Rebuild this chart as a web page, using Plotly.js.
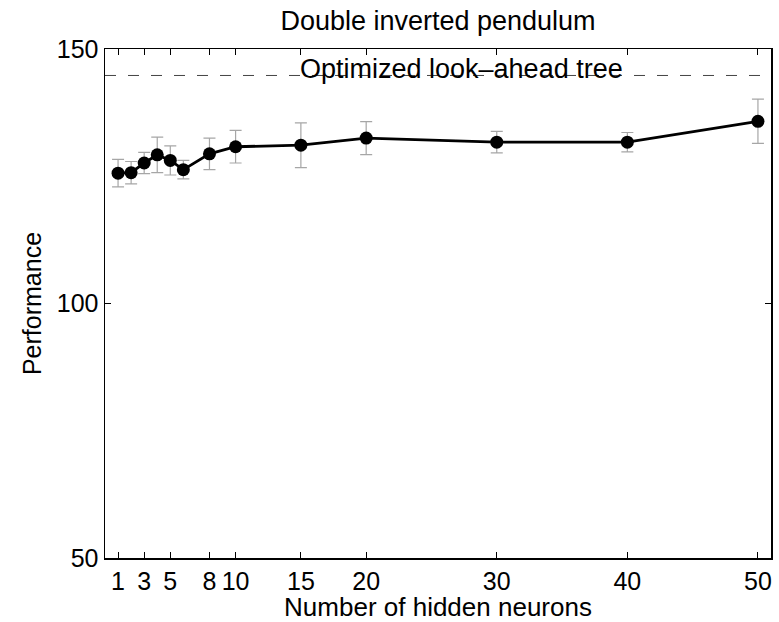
<!DOCTYPE html>
<html>
<head>
<meta charset="utf-8">
<script src="https://cdn.plot.ly/plotly-3.0.1.min.js"></script>
<style>html,body{margin:0;padding:0;background:#fff;}#chart{width:779px;height:622px;}</style>
</head>
<body>
<div id="chart"></div>
<script>
var neurons = [1, 2, 3, 4, 5, 6, 8, 10, 15, 20, 30, 40, 50];
var performance = [125.6, 125.7, 127.6, 129.2, 128.1, 126.3, 129.4, 130.8, 131.1, 132.5, 131.7, 131.7, 135.8];
var errors = [2.7, 2.2, 2.1, 3.5, 2.85, 1.8, 3.1, 3.2, 4.4, 3.25, 2.1, 1.9, 4.35];
var optimizedTree = 144.8;
var xTicks = [1, 3, 5, 8, 10, 15, 20, 30, 40, 50];
var yTicks = [50, 100, 150];

var font = 'Liberation Sans, Arial, Helvetica, sans-serif';

var trace = {
  x: neurons,
  y: performance,
  type: 'scatter',
  mode: 'lines+markers',
  line: {color: '#000', width: 2.8},
  marker: {color: '#000', size: 13},
  error_y: {type: 'data', array: errors, visible: true, color: '#a6a6a6', thickness: 1.2, width: 6},
  hoverinfo: 'x+y'
};

var layout = {
  width: 779,
  height: 622,
  margin: {l: 105, r: 8, t: 49, b: 64},
  paper_bgcolor: '#fff',
  plot_bgcolor: '#fff',
  showlegend: false,
  font: {family: font, size: 25, color: '#000'},
  title: {text: 'Double inverted pendulum', font: {family: font, size: 27, color: '#000'},
          x: 0.5, xanchor: 'center', xref: 'paper', y: 1 - 21/622, yanchor: 'middle', yref: 'container'},
  xaxis: {
    range: [0, 51],
    tickvals: xTicks,
    ticktext: xTicks.map(String),
    ticks: 'inside', ticklen: 6, tickcolor: '#000', tickwidth: 1,
    showline: true, linecolor: '#000', linewidth: 1.5, mirror: 'ticks',
    showgrid: false, zeroline: false,
    tickfont: {family: font, size: 25, color: '#000'},
    title: {text: 'Number of hidden neurons', font: {family: font, size: 26, color: '#000'}, standoff: 4}
  },
  yaxis: {
    range: [50, 150],
    tickvals: yTicks,
    ticktext: yTicks.map(String),
    ticks: 'inside', ticklen: 6, tickcolor: '#000', tickwidth: 1,
    showline: true, linecolor: '#000', linewidth: 1.5, mirror: 'ticks',
    showgrid: false, zeroline: false,
    tickfont: {family: font, size: 25, color: '#000'},
    title: {text: 'Performance', font: {family: font, size: 25, color: '#000'}, standoff: 8}
  },
  shapes: [{
    type: 'line', xref: 'paper', x0: 0, x1: 1, yref: 'y', y0: optimizedTree, y1: optimizedTree,
    line: {color: '#444', width: 1, dash: '11px,12px'}
  }],
  annotations: [{
    text: 'Optimized look\u2013ahead tree', xref: 'x', yref: 'y', x: 27.3, y: optimizedTree,
    xanchor: 'center', yanchor: 'middle', yshift: 6, showarrow: false,
    font: {family: font, size: 27, color: '#000'}
  }]
};

Plotly.newPlot('chart', [trace], layout, {displayModeBar: false, staticPlot: true});
</script>
</body>
</html>
